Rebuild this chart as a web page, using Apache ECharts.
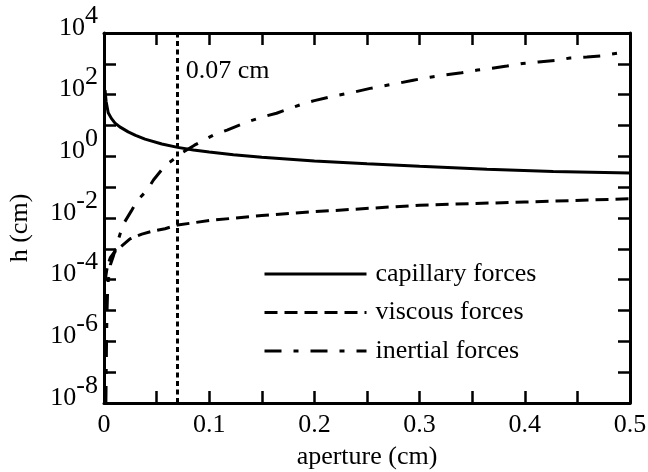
<!DOCTYPE html>
<html>
<head>
<meta charset="utf-8">
<script src="https://cdn.jsdelivr.net/npm/echarts@6/dist/echarts.min.js"></script>
<style>
  html, body { margin: 0; padding: 0; background: #fff; }
  #chart { width: 648px; height: 472px; }
</style>
</head>
<body>
<div id="chart"></div>
<script>
// ---- Data (aperture in cm, h in cm) ----
const seriesNames = ['capillary forces', 'viscous forces', 'inertial forces'];

const capAperture = [0.001, 0.002, 0.004, 0.007, 0.0105, 0.015, 0.023, 0.03, 0.039, 0.055, 0.07, 0.085, 0.1, 0.123, 0.15, 0.2, 0.25, 0.3, 0.364, 0.427, 0.5];
const capH        = [140, 60, 26, 17, 12, 9, 6.2, 4.8, 3.6, 2.5, 1.95, 1.6, 1.38, 1.13, 0.93, 0.71, 0.57, 0.475, 0.38, 0.325, 0.29];

const visAperture = [0.001, 0.003, 0.006, 0.01, 0.0247, 0.036, 0.047, 0.058, 0.07, 0.1, 0.15, 0.2, 0.3, 0.4, 0.5];
const visH        = [9e-5, 2.5e-4, 5.2e-4, 7.9e-4, 2.1e-3, 3.0e-3, 3.8e-3, 4.5e-3, 5.9e-3, 8.3e-3, 1.2e-2, 1.6e-2, 2.6e-2, 3.3e-2, 4.2e-2];

const inrAperture = [0.0018, 0.0021, 0.0024, 0.0028, 0.0033, 0.004, 0.006, 0.009, 0.013, 0.018, 0.026, 0.032, 0.041, 0.047, 0.058, 0.07, 0.075, 0.086, 0.104, 0.117, 0.136, 0.151, 0.164, 0.177, 0.189, 0.2, 0.215, 0.237, 0.253, 0.265, 0.281, 0.294, 0.31, 0.324, 0.34, 0.355, 0.369, 0.383, 0.398, 0.413, 0.429, 0.443, 0.459, 0.472, 0.489];
const inrH        = [1e-8, 1e-7, 1e-6, 8e-6, 3e-5, 9e-5, 3e-4, 6e-4, 1.7e-3, 6e-3, 1.7e-2, 3.8e-2, 8e-2, 0.17, 0.5, 1.0, 1.35, 2.3, 4.9, 7.1, 13, 19, 25, 36, 50, 64, 85, 120, 160, 190, 240, 295, 370, 440, 510, 630, 720, 850, 1030, 1150, 1280, 1550, 1660, 1800, 2240];

const markAperture = 0.07;
const markText = '0.07 cm';
const xTitle = 'aperture (cm)';
const yTitle = 'h (cm)';

// ---- Chart ----
const FONT = '"Liberation Serif", "Times New Roman", serif';
const FS = 26;
const pairs = (xs, ys) => xs.map((x, i) => [x, ys[i]]);

const chart = echarts.init(document.getElementById('chart'), null, { renderer: 'canvas' });

const axisLineStyle = { color: '#000', width: 3 };
const tickStyle = { show: true, inside: true, length: 12, lineStyle: { color: '#000', width: 2.5 } };

const option = {
  animation: false,
  backgroundColor: '#fff',
  grid: { left: 104, right: 18, top: 33, bottom: 69, containLabel: false, outerBoundsMode: 'none' },
  xAxis: [
    {
      type: 'value', min: 0, max: 0.5, interval: 0.05, position: 'bottom',
      name: xTitle, nameLocation: 'middle', nameGap: 41,
      nameTextStyle: { fontFamily: FONT, fontSize: FS, color: '#000' },
      axisLine: { show: true, onZero: false, lineStyle: axisLineStyle },
      axisTick: tickStyle,
      splitLine: { show: false },
      axisLabel: {
        margin: 9, fontFamily: FONT, fontSize: FS, color: '#000',
        formatter: v => (Math.round(v * 100) % 10 === 0 ? String(Math.round(v * 10) / 10) : '')
      }
    },
    {
      type: 'value', min: 0, max: 0.5, interval: 0.05, position: 'top',
      axisLine: { show: true, onZero: false, lineStyle: axisLineStyle },
      axisTick: tickStyle, axisLabel: { show: false }, splitLine: { show: false }
    }
  ],
  yAxis: [
    {
      type: 'log', logBase: 10, min: 1e-8, max: 1e4, interval: 1, position: 'left',
      axisLine: { show: true, onZero: false, lineStyle: axisLineStyle },
      axisTick: tickStyle,
      splitLine: { show: false },
      axisLabel: {
        margin: 6, color: '#000', padding: [0, 0, 22, 0],
        formatter: v => {
          const e = Math.round(Math.log10(v));
          if (e % 2 !== 0) return '';
          return '{b|10}{s|' + e + '}';
        },
        rich: {
          b: { fontFamily: FONT, fontSize: FS, lineHeight: 26, verticalAlign: 'bottom', color: '#000' },
          s: { fontFamily: FONT, fontSize: FS, lineHeight: 38, verticalAlign: 'top', color: '#000' }
        }
      }
    },
    {
      type: 'log', logBase: 10, min: 1e-8, max: 1e4, interval: 1, position: 'right',
      axisLine: { show: true, onZero: false, lineStyle: axisLineStyle },
      axisTick: tickStyle, axisLabel: { show: false }, splitLine: { show: false }
    }
  ],
  legend: {
    show: true,
    orient: 'vertical', left: 258, top: 255, itemWidth: 102, itemHeight: 14, itemGap: 10.5,
    itemStyle: { color: 'rgba(0,0,0,0)', borderWidth: 0, opacity: 0 },
    lineStyle: { width: 3, color: '#000' },
    textStyle: { fontFamily: FONT, fontSize: FS, color: '#000', lineHeight: 28, padding: [0, 0, 0, 4] },
    data: seriesNames
  },
  series: [
    {
      name: seriesNames[0], type: 'line', data: pairs(capAperture, capH), showSymbol: false, symbol: 'none',
      smooth: false, lineStyle: { color: '#000', width: 3, type: 'solid' }, itemStyle: { color: '#000' },
      markLine: {
        silent: true, symbol: 'none', animation: false,
        label: { show: false },
        lineStyle: { color: '#000', width: 3, type: [5, 3.5] },
        data: [{ xAxis: markAperture }]
      }
    },
    {
      name: seriesNames[1], type: 'line', data: pairs(visAperture, visH), showSymbol: false, symbol: 'none',
      lineStyle: { color: '#000', width: 3, type: [13, 7] }, itemStyle: { color: '#000' }
    },
    {
      name: seriesNames[2], type: 'line', data: pairs(inrAperture, inrH), showSymbol: false, symbol: 'none',
      lineStyle: { color: '#000', width: 3, type: [17, 12, 5, 12] }, itemStyle: { color: '#000' }
    }
  ]
};
chart.setOption(option);

const mx = chart.convertToPixel({ xAxisIndex: 0 }, markAperture);
chart.setOption({
  graphic: [
    {
      type: 'text', left: mx + 8, top: 58,
      style: { text: markText, font: FS + 'px ' + FONT, fill: '#000' }
    },
    {
      type: 'text', x: 20, y: 228, rotation: Math.PI / 2,
      style: { text: yTitle, font: FS + 'px ' + FONT, fill: '#000', align: 'center', verticalAlign: 'middle' }
    }
  ]
});
</script>
</body>
</html>
